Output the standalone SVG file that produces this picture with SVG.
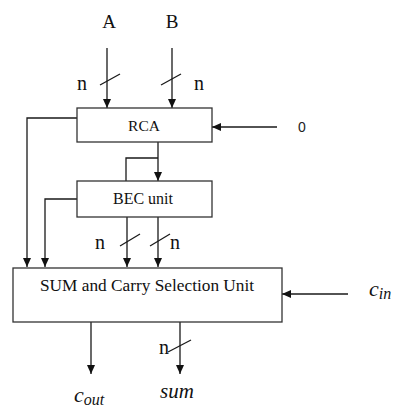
<svg xmlns="http://www.w3.org/2000/svg" width="399" height="409" viewBox="0 0 399 409">
<defs>
<marker id="ah" markerUnits="userSpaceOnUse" markerWidth="10" markerHeight="10" refX="9" refY="4" orient="auto">
<path d="M0,0 L9,4 L0,8 Z" fill="#111"/>
</marker>
<style>
.ln{stroke:#1a1a1a;stroke-width:1.3;fill:none}
.ar{stroke:#1a1a1a;stroke-width:1.3;fill:none;marker-end:url(#ah)}
.bx{stroke:#333;stroke-width:1.3;fill:#fff}
.t{font-family:"Liberation Serif","Times New Roman",serif;fill:#111}
.m{font-family:"Liberation Serif","Times New Roman",serif;font-style:italic;fill:#111}
</style>
</defs>
<rect width="399" height="409" fill="#fff"/>
<g id="connectors">
<line class="ar" x1="107" y1="48" x2="107" y2="108"/>
<line class="ar" x1="172" y1="48" x2="172" y2="108"/>
<line class="ln" x1="100" y1="85" x2="120" y2="74"/>
<line class="ln" x1="161" y1="85" x2="181" y2="74"/>
<line class="ar" x1="277" y1="127" x2="212" y2="127"/>
<polyline class="ar" points="77,118 27,118 27,267"/>
<line class="ar" x1="158" y1="142" x2="158" y2="181"/>
<polyline class="ln" points="158,158 126,158 126,181"/>
<polyline class="ar" points="77,199 45,199 45,267"/>
<line class="ar" x1="127" y1="217" x2="127" y2="267"/>
<line class="ar" x1="158" y1="217" x2="158" y2="267"/>
<line class="ln" x1="120" y1="246" x2="140" y2="234"/>
<line class="ln" x1="150" y1="246" x2="170" y2="234"/>
<line class="ar" x1="348" y1="294" x2="282" y2="294"/>
<line class="ar" x1="91" y1="322" x2="91" y2="374"/>
<line class="ar" x1="180" y1="322" x2="180" y2="374"/>
<line class="ln" x1="168" y1="352" x2="191" y2="340"/>
</g>
<g id="labelA"><text class="t" x="109" y="28" font-size="19" text-anchor="middle">A</text></g>
<g id="labelB"><text class="t" x="172" y="28" font-size="19" text-anchor="middle">B</text></g>
<g id="widthLabels">
<text class="t" x="77" y="90" font-size="20">n</text>
<text class="t" x="194" y="90" font-size="20">n</text>
<text class="t" x="95" y="249" font-size="20">n</text>
<text class="t" x="170" y="249" font-size="20">n</text>
<text class="t" x="159" y="354" font-size="20">n</text>
</g>
<g id="rca">
<rect class="bx" x="77" y="108" width="135" height="34"/>
<text class="t" x="144" y="131" font-size="15.5" text-anchor="middle">RCA</text>
</g>
<g id="zero"><text x="298" y="132" font-family="Liberation Sans,Arial,sans-serif" font-size="14" fill="#222">0</text></g>
<g id="bec">
<rect class="bx" x="77" y="181" width="135" height="36"/>
<text class="t" x="143" y="204" font-size="16" text-anchor="middle">BEC unit</text>
</g>
<g id="scsu">
<rect class="bx" x="13" y="268" width="269" height="54"/>
<text class="t" x="40" y="291" font-size="17.3">SUM and Carry Selection Unit</text>
</g>
<g id="cin"><text class="m" x="369" y="296" font-size="22">c<tspan font-size="16" dy="3">in</tspan></text></g>
<g id="cout"><text class="m" x="74" y="402" font-size="22">c<tspan font-size="16" dy="3">out</tspan></text></g>
<g id="sum"><text class="m" x="160" y="398" font-size="21">sum</text></g>
</svg>
